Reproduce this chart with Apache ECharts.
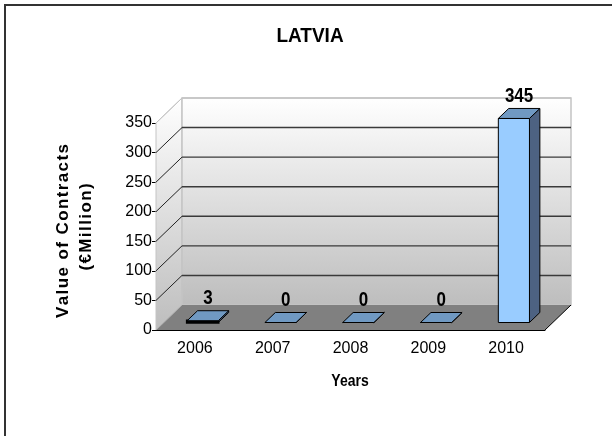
<!DOCTYPE html>
<html lang="en">
<head>
    <meta charset="UTF-8">
    <title>LATVIA</title>
    <script src="https://cdn.jsdelivr.net/npm/echarts@6/dist/echarts.min.js"></script>
    <style>
        body {
            padding: 0;
            margin: 0;
            background: #fff;
        }
        #ec {
            width: 612px;
            height: 436px;
        }
    </style>
</head>
<body>
<div id="ec"></div>
<script>
    // data
    let years = ['2006', '2007', '2008', '2009', '2010'];
    let values = [3, 0, 0, 0, 345];
    let yTicks = [0, 50, 100, 150, 200, 250, 300, 350];

    // fake 3D: pixel offset from the front plane to the back wall
    const DX = 26, DY = -25;
    const BAR_FRONT = 0.3, BAR_BACK = 0.7;
    const SANS = "'Liberation Sans', Arial, sans-serif";

    function spaced(s) {
        return s.split('').join('\u200a');
    }

    function wallGradient() {
        return new echarts.graphic.LinearGradient(0, 0, 0, 1, [
            {offset: 0, color: '#ffffff'},
            {offset: 1, color: '#bdbdbd'}
        ]);
    }

    function renderWalls(params, api) {
        let cs = params.coordSys;
        let x0 = cs.x, x1 = cs.x + cs.width, yt = cs.y, yb = cs.y + cs.height;
        return {
            type: 'group',
            children: [
                {   // left side wall
                    type: 'polygon',
                    shape: {points: [[x0, yb], [x0, yt], [x0 + DX, yt + DY], [x0 + DX, yb + DY]]},
                    style: {fill: wallGradient(), stroke: '#c4c4c4', lineWidth: 1}
                },
                {   // back wall
                    type: 'rect',
                    shape: {x: x0 + DX, y: yt + DY, width: cs.width, height: cs.height},
                    style: {fill: wallGradient(), stroke: '#c4c4c4', lineWidth: 1.5}
                },
                {   // floor
                    type: 'polygon',
                    shape: {points: [[x0, yb], [x1, yb], [x1 + DX, yb + DY], [x0 + DX, yb + DY]]},
                    style: {fill: '#808080', stroke: null}
                },
                {
                    type: 'line',
                    shape: {x1: x1, y1: yb, x2: x1 + DX, y2: yb + DY},
                    style: {stroke: '#000', lineWidth: 1}
                },
                {
                    type: 'line',
                    shape: {x1: x0, y1: yb, x2: x0 + DX, y2: yb + DY},
                    style: {stroke: '#b0b0b0', lineWidth: 1}
                }
            ]
        };
    }

    function renderGrid(params, api) {
        let cs = params.coordSys;
        let v = api.value(1);
        let y = api.coord([0, v])[1];
        let x0 = cs.x, x1 = cs.x + cs.width;
        let top = v === yTicks[yTicks.length - 1];
        if (v === 0) {
            return {type: 'group', children: []};
        }
        return {
            type: 'group',
            children: [
                {
                    type: 'line',
                    shape: {x1: x0, y1: y, x2: x0 + DX, y2: y + DY},
                    style: {stroke: top ? '#c4c4c4' : '#222', lineWidth: 1}
                },
                {
                    type: 'line',
                    shape: {x1: x0 + DX, y1: y + DY, x2: x1 + DX, y2: y + DY},
                    style: {stroke: top ? '#c4c4c4' : '#3a3a3a', lineWidth: top ? 1.5 : 1.4}
                }
            ]
        };
    }

    function renderBar(params, api) {
        let i = api.value(0), v = api.value(1);
        let top = api.coord([i, v]);
        let base = api.coord([i, 0]);
        let bw = api.size([1, 0])[0] * 0.4;
        let xl = top[0] - bw / 2, xr = top[0] + bw / 2;
        let fx = BAR_FRONT * DX, fy = BAR_FRONT * DY;
        let bx = BAR_BACK * DX, by = BAR_BACK * DY;
        let h = base[1] - top[1];
        return {
            type: 'group',
            children: [
                {   // side
                    type: 'polygon',
                    shape: {points: [[xr + fx, top[1] + fy], [xr + bx, top[1] + by], [xr + bx, base[1] + by], [xr + fx, base[1] + fy]]},
                    style: {fill: '#4d6282', stroke: '#000', lineWidth: 1}
                },
                {   // front
                    type: 'rect',
                    shape: {x: xl + fx, y: top[1] + fy, width: bw, height: h},
                    style: {fill: '#99ccff', stroke: '#000', lineWidth: h > 0 && h < 3 ? 2.5 : 1}
                },
                {   // top
                    type: 'polygon',
                    shape: {points: [[xl + fx, top[1] + fy], [xl + bx, top[1] + by], [xr + bx, top[1] + by], [xr + fx, top[1] + fy]]},
                    style: {fill: '#7099c2', stroke: '#000', lineWidth: 1}
                },
                {   // value label
                    type: 'text',
                    x: top[0] + (fx + bx) / 2,
                    y: top[1] + (fy + by) / 2 - 17,
                    scaleY: 1.15,
                    style: {
                        text: String(v),
                        align: 'center',
                        verticalAlign: 'middle',
                        fontSize: 17,
                        fontWeight: 'bold',
                        fontFamily: SANS,
                        fill: '#000'
                    }
                }
            ]
        };
    }

    let ec = echarts.init(document.getElementById('ec'), null, {renderer: 'canvas'});
    let option = {
        animation: false,
        backgroundColor: '#fff',
        grid: {
            left: 156,
            right: 67,
            top: 123,
            bottom: 106,
            containLabel: false
        },
        xAxis: {
            type: 'category',
            data: years,
            axisLine: {lineStyle: {color: '#000', width: 1}},
            axisTick: {length: 5, lineStyle: {color: '#000'}},
            axisLabel: {margin: 11, fontSize: 16, fontFamily: SANS, color: '#000'},
            splitLine: {show: false}
        },
        yAxis: {
            type: 'value',
            min: 0,
            max: 350,
            interval: 50,
            axisLine: {show: true, lineStyle: {color: '#000', width: 1}},
            axisTick: {show: true, length: 4, lineStyle: {color: '#000'}},
            axisLabel: {margin: 4, fontSize: 16, fontFamily: SANS, color: '#000'},
            splitLine: {show: false}
        },
        graphic: [
            {
                type: 'rect',
                shape: {x: 5, y: 5, width: 640, height: 460},
                style: {fill: null, stroke: '#333', lineWidth: 2},
                silent: true
            },
            {
                type: 'text',
                x: 310,
                y: 36,
                scaleY: 1.1,
                style: {
                    text: 'LATVIA',
                    align: 'center',
                    verticalAlign: 'middle',
                    fontSize: 19,
                    fontWeight: 'bold',
                    fontFamily: SANS,
                    fill: '#000'
                }
            },
            {
                type: 'text',
                x: 64,
                y: 231,
                rotation: Math.PI / 2,
                scaleX: 1.06,
                style: {
                    text: spaced('Value of Contracts'),
                    align: 'center',
                    verticalAlign: 'middle',
                    fontSize: 16,
                    fontWeight: 'bold',
                    fontFamily: SANS,
                    fill: '#000'
                }
            },
            {
                type: 'text',
                x: 87,
                y: 227,
                rotation: Math.PI / 2,
                scaleX: 1.06,
                style: {
                    text: spaced('(€Million)'),
                    align: 'center',
                    verticalAlign: 'middle',
                    fontSize: 16,
                    fontWeight: 'bold',
                    fontFamily: SANS,
                    fill: '#000'
                }
            },
            {
                type: 'text',
                x: 350,
                y: 382,
                scaleY: 1.15,
                style: {
                    text: 'Years',
                    align: 'center',
                    verticalAlign: 'middle',
                    fontSize: 14,
                    fontWeight: 'bold',
                    fontFamily: SANS,
                    fill: '#000'
                }
            }
        ],
        series: [
            {
                type: 'custom',
                z: 1,
                renderItem: renderWalls,
                data: [[0, 0]],
                silent: true
            },
            {
                type: 'custom',
                z: 2,
                renderItem: renderGrid,
                data: yTicks.map(v => [0, v]),
                silent: true
            },
            {
                type: 'custom',
                z: 3,
                renderItem: renderBar,
                data: values.map((v, i) => [i, v])
            }
        ]
    };
    ec.setOption(option);
    window.onresize = function() {
        ec.resize();
    };
</script>
</body>
</html>
